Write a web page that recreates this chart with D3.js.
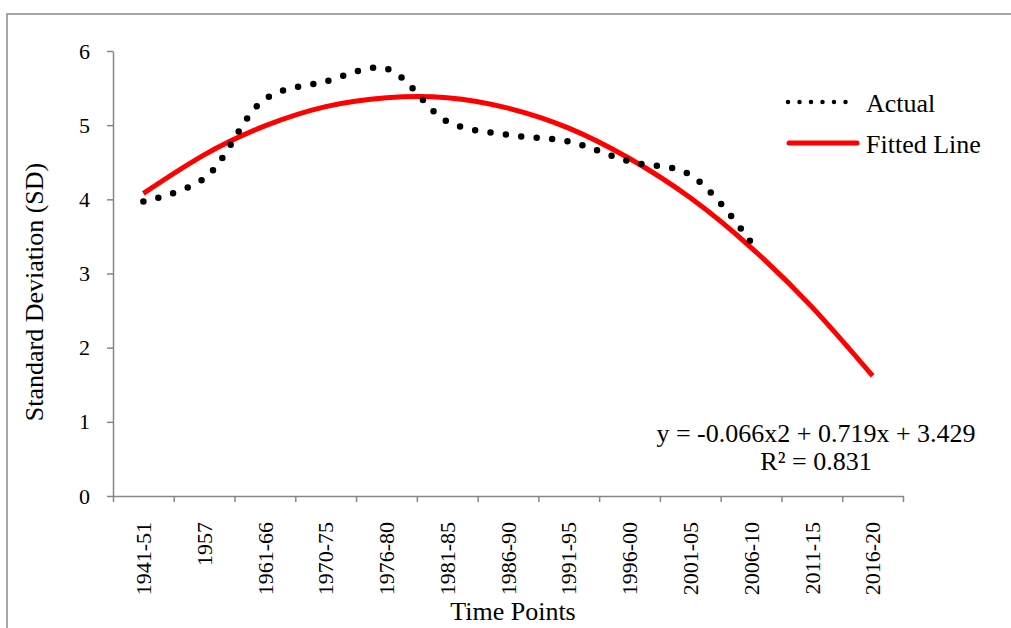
<html lang="en">
<head>
    <meta charset="UTF-8">
    <script src="https://d3js.org/d3.v7.min.js"></script>
    <title>Standard Deviation over Time Points</title>
    <style>
        body { margin: 0; background: #fff; }
        svg { display: block; font-family: "Liberation Serif", "Times New Roman", serif; }
        .axis path, .axis line { stroke: #868686; stroke-width: 1.5; }
    </style>
</head>
<body>
<div id="chart"></div>
<script>
    // categories on the x axis
    const timePoints = ['1941-51', '1957', '1961-66', '1970-75', '1976-80', '1981-85', '1986-90',
        '1991-95', '1996-00', '2001-05', '2006-10', '2011-15', '2016-20'];
    const actual = [3.97, 4.28, 5.35, 5.59, 5.76, 5.05, 4.87, 4.78, 4.51, 4.33, 3.42];
    // quadratic trend values at each time point
    const fitted = [4.08, 4.60, 4.99, 5.25, 5.37, 5.37, 5.23, 4.96, 4.55, 4.02, 3.35, 2.55, 1.62];
    const yTicks = [0, 1, 2, 3, 4, 5, 6];
    const seriesNames = ['Actual', 'Fitted Line'];
    const equation = ['y = -0.066x2 + 0.719x + 3.429', 'R\u00b2 = 0.831'];

    const w = 1011, h = 628;
    const pLeft = 113, pRight = 903, pTop = 51, pBottom = 496;
    const serif = '"Liberation Serif", "Times New Roman", serif';

    const svg = d3.select('#chart').append('svg')
        .attr('width', w)
        .attr('height', h);

    // chart frame
    svg.append('rect')
        .attr('x', 7).attr('y', 14)
        .attr('width', w + 10).attr('height', h + 10)
        .attr('fill', 'none')
        .attr('stroke', '#8a8a8a')
        .attr('stroke-width', 1.5);

    const x = d3.scaleBand().domain(timePoints).range([pLeft, pRight]);
    const xEdge = d3.scaleLinear().domain([0, timePoints.length]).range([pLeft, pRight]);
    const y = d3.scaleLinear().domain([0, 6]).range([pBottom, pTop]);
    const cx = d => x(d) + x.bandwidth() / 2;

    // y axis
    const yAx = svg.append('g')
        .attr('class', 'axis')
        .attr('transform', 'translate(' + pLeft + ',0)')
        .call(d3.axisLeft(y).tickValues(yTicks).tickFormat(d3.format('d'))
            .tickSize(6).tickSizeOuter(0).tickPadding(17));
    yAx.selectAll('text')
        .style('font-family', serif)
        .style('font-size', '22px')
        .attr('fill', '#000');

    // x axis tick marks at band edges
    svg.append('g')
        .attr('class', 'axis')
        .attr('transform', 'translate(0,' + pBottom + ')')
        .call(d3.axisBottom(xEdge).ticks(timePoints.length).tickSize(6).tickSizeOuter(0).tickFormat(''));

    // x axis labels, rotated
    const xAx = svg.append('g')
        .attr('class', 'axis')
        .attr('transform', 'translate(0,' + pBottom + ')')
        .call(d3.axisBottom(x).tickSize(0).tickSizeOuter(0));
    xAx.select('.domain').remove();
    xAx.selectAll('text')
        .attr('transform', 'rotate(-90)')
        .attr('text-anchor', 'end')
        .attr('x', -26)
        .attr('y', 0)
        .attr('dy', '0.35em')
        .attr('fill', '#000')
        .style('font-family', serif)
        .style('font-size', '22px');

    // fitted line
    const fitLine = d3.line()
        .x((d, i) => cx(timePoints[i]))
        .y(d => y(d))
        .curve(d3.curveNatural);

    svg.append('path')
        .datum(fitted)
        .attr('d', fitLine)
        .attr('fill', 'none')
        .attr('stroke', '#ff0000')
        .attr('stroke-width', 5);

    // actual values, dotted
    const actLine = d3.line()
        .x((d, i) => cx(timePoints[i]))
        .y(d => y(d))
        .curve(d3.curveCatmullRom.alpha(0.5));

    svg.append('path')
        .datum(actual)
        .attr('d', actLine)
        .attr('fill', 'none')
        .attr('stroke', '#000')
        .attr('stroke-width', 6.5)
        .attr('stroke-linecap', 'round')
        .attr('stroke-dasharray', '0,15.5');

    // axis titles
    svg.append('text')
        .attr('transform', 'translate(43,292) rotate(-90)')
        .attr('text-anchor', 'middle')
        .style('font-size', '26px')
        .text('Standard Deviation (SD)');

    svg.append('text')
        .attr('x', 513).attr('y', 620)
        .attr('text-anchor', 'middle')
        .style('font-size', '26px')
        .text('Time Points');

    // trend equation
    svg.append('g').selectAll('text')
        .data(equation)
        .enter()
        .append('text')
        .attr('x', 816)
        .attr('y', (d, i) => 442 + i * 28)
        .attr('text-anchor', 'middle')
        .style('font-size', '26px')
        .text(d => d);

    // legend
    const legend = svg.append('g').attr('transform', 'translate(788,102)');
    legend.append('line')
        .attr('x1', 0).attr('x2', 69).attr('y1', 0).attr('y2', 0)
        .attr('stroke', '#000')
        .attr('stroke-width', 4.5)
        .attr('stroke-linecap', 'round')
        .attr('stroke-dasharray', '0,11.5');
    legend.append('line')
        .attr('x1', 1).attr('x2', 69).attr('y1', 41).attr('y2', 41)
        .attr('stroke', '#ff0000')
        .attr('stroke-width', 5)
        .attr('stroke-linecap', 'round');
    legend.selectAll('text')
        .data(seriesNames)
        .enter()
        .append('text')
        .attr('x', 78)
        .attr('y', (d, i) => 10 + i * 41)
        .style('font-size', '26px')
        .text(d => d);
</script>
</body>
</html>
